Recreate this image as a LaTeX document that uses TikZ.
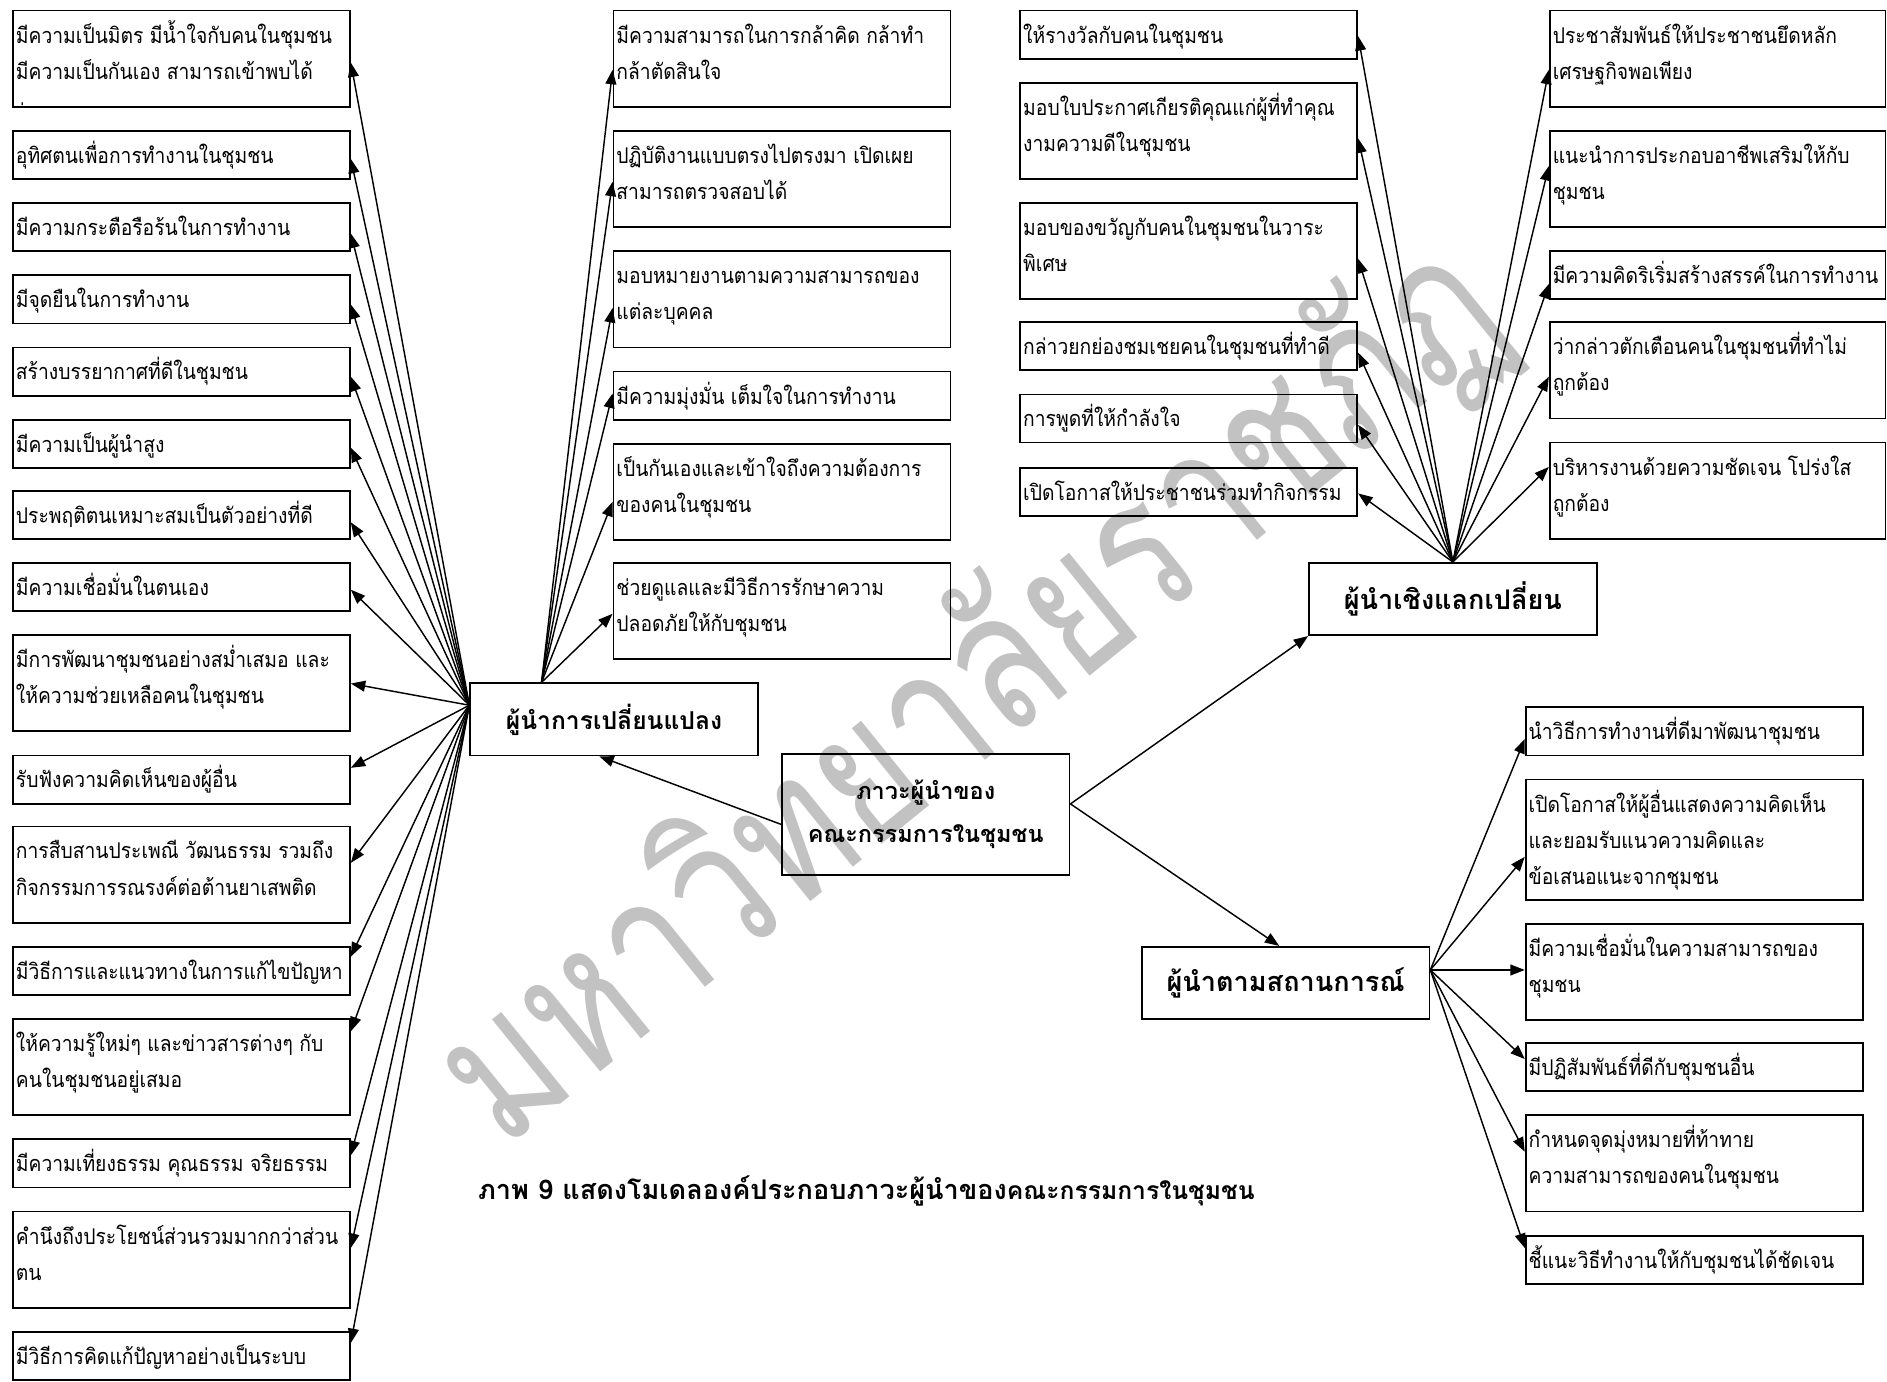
\documentclass[tikz,border=0pt]{standalone}
\usepackage{fontspec}
\setmainfont[Script=Thai]{Loma}
\newfontfamily\boxfont[Script=Thai,FakeStretch=0.89]{Loma}
\newfontfamily\wmfont[Script=Thai,FakeStretch=0.78]{Loma}
\usetikzlibrary{arrows.meta}
\tikzset{
  tbox/.style={draw, line width=1.5pt, inner xsep=2.5pt, inner ysep=0pt, anchor=north west,
    font=\boxfont\fontsize{18}{30}\selectfont},
  hub/.style={draw, line width=1.5pt, inner sep=0pt, anchor=north west, align=center,
    minimum width=239pt, font=\bfseries\fontsize{20}{36}\selectfont},
  arr/.style={line width=1.2pt, -{Triangle[length=12pt,width=9pt]}},
  wm/.style={text=black!24, font=\wmfont\fontsize{162}{162}\selectfont, rotate=39, inner sep=0pt},
  captxt/.style={font=\bfseries\fontsize{22.5}{26}\selectfont, inner sep=0pt}
}
\newcommand\mkbox[6]{\node[tbox] (#1) at (#2,#3)
  {\parbox[c][#5pt][t]{\dimexpr #4pt-5pt\relax}{\lineskiplimit=-100pt\rule{0pt}{27pt}#6}};}
\begin{document}
\begin{tikzpicture}[x=1pt,y=-1pt]
\useasboundingbox (0,0) rectangle (1568,1148);
% watermark
\node[wm] (wmark) at (808,578) {มหาวิทยาลัยราชภัฏ};
% left column
\mkbox{b1}{10}{8}{280}{80}{\mbox{มีความเป็นมิตร มีน้ำใจกับคนในชุมชน}\\\mbox{มีความเป็นกันเอง สามารถเข้าพบได้}}
\mkbox{b2}{10}{108}{280}{40}{อุทิศตนเพื่อการทำงานในชุมชน}
\mkbox{b3}{10}{168}{280}{40}{มีความกระตือรือร้นในการทำงาน}
\mkbox{b4}{10}{228}{280}{40}{มีจุดยืนในการทำงาน}
\mkbox{b5}{10}{288}{280}{40}{สร้างบรรยากาศที่ดีในชุมชน}
\mkbox{b6}{10}{348}{280}{40}{มีความเป็นผู้นำสูง}
\mkbox{b7}{10}{407}{280}{40}{ประพฤติตนเหมาะสมเป็นตัวอย่างที่ดี}
\mkbox{b8}{10}{467}{280}{40}{มีความเชื่อมั่นในตนเอง}
\mkbox{b9}{10}{527}{280}{80}{\mbox{มีการพัฒนาชุมชนอย่างสม่ำเสมอ และ}\\ให้ความช่วยเหลือคนในชุมชน}
\mkbox{b10}{10}{627}{280}{40}{รับฟังความคิดเห็นของผู้อื่น}
\mkbox{b11}{10}{686}{280}{80}{\mbox{การสืบสานประเพณี วัฒนธรรม รวมถึง}\\กิจกรรมการรณรงค์ต่อต้านยาเสพติด}
\mkbox{b12}{10}{786}{280}{40}{มีวิธีการและแนวทางในการแก้ไขปัญหา}
\mkbox{b13}{10}{846}{280}{80}{\mbox{ให้ความรู้ใหม่ๆ และข่าวสารต่างๆ กับ}\\คนในชุมชนอยู่เสมอ}
\mkbox{b14}{10}{946}{280}{40}{\mbox{มีความเที่ยงธรรม คุณธรรม จริยธรรม}}
\mkbox{b15}{10}{1006}{280}{80}{คำนึงถึงประโยชน์ส่วนรวมมากกว่าส่วน\\ตน}
\mkbox{b16}{10}{1106}{280}{40}{มีวิธีการคิดแก้ปัญหาอย่างเป็นระบบ}
\begin{scope}
\clip (b1.north west) rectangle (b1.south east);
\node[anchor=base west, inner sep=0pt, font=\boxfont\fontsize{18}{30}\selectfont] (b1c) at ([xshift=2.5pt,yshift=-91pt]b1.north west) {ง่าย};
\end{scope}
% column 2
\mkbox{c1}{509}{8}{280}{80}{\mbox{มีความสามารถในการกล้าคิด กล้าทำ}\\กล้าตัดสินใจ}
\mkbox{c2}{509}{108}{280}{80}{\mbox{ปฏิบัติงานแบบตรงไปตรงมา เปิดเผย}\\สามารถตรวจสอบได้}
\mkbox{c3}{509}{208}{280}{80}{มอบหมายงานตามความสามารถของ\\แต่ละบุคคล}
\mkbox{c4}{509}{308}{280}{40}{\mbox{มีความมุ่งมั่น เต็มใจในการทำงาน}}
\mkbox{c5}{509}{368}{280}{80}{เป็นกันเองและเข้าใจถึงความต้องการ\\ของคนในชุมชน}
\mkbox{c6}{509}{467}{280}{80}{ช่วยดูแลและมีวิธีการรักษาความ\\ปลอดภัยให้กับชุมชน}
% column 3
\mkbox{d1}{847}{8}{280}{40}{ให้รางวัลกับคนในชุมชน}
\mkbox{d2}{847}{68}{280}{80}{มอบใบประกาศเกียรติคุณแก่ผู้ที่ทำคุณ\\งามความดีในชุมชน}
\mkbox{d3}{847}{168}{280}{80}{มอบของขวัญกับคนในชุมชนในวาระ\\พิเศษ}
\mkbox{d4}{847}{267}{280}{40}{กล่าวยกย่องชมเชยคนในชุมชนที่ทำดี}
\mkbox{d5}{847}{327}{280}{40}{การพูดที่ให้กำลังใจ}
\mkbox{d6}{847}{388}{280}{40}{เปิดโอกาสให้ประชาชนร่วมทำกิจกรรม}
% column 4
\mkbox{e1}{1287}{8}{279}{80}{ประชาสัมพันธ์ให้ประชาชนยึดหลัก\\เศรษฐกิจพอเพียง}
\mkbox{e2}{1287}{108}{279}{80}{แนะนำการประกอบอาชีพเสริมให้กับ\\ชุมชน}
\mkbox{e3}{1287}{208}{279}{40}{มีความคิดริเริ่มสร้างสรรค์ในการทำงาน}
\mkbox{e4}{1287}{267}{279}{80}{ว่ากล่าวตักเตือนคนในชุมชนที่ทำไม่\\ถูกต้อง}
\mkbox{e5}{1287}{367}{279}{80}{\mbox{บริหารงานด้วยความชัดเจน โปร่งใส}\\ถูกต้อง}
% column 5
\mkbox{f1}{1267}{587}{280}{40}{นำวิธีการทำงานที่ดีมาพัฒนาชุมชน}
\mkbox{f2}{1267}{647}{280}{100}{เปิดโอกาสให้ผู้อื่นแสดงความคิดเห็น\\และยอมรับแนวความคิดและ\\ข้อเสนอแนะจากชุมชน}
\mkbox{f3}{1267}{767}{280}{80}{มีความเชื่อมั่นในความสามารถของ\\ชุมชน}
\mkbox{f4}{1267}{866}{280}{40}{มีปฏิสัมพันธ์ที่ดีกับชุมชนอื่น}
\mkbox{f5}{1267}{926}{280}{80}{กำหนดจุดมุ่งหมายที่ท้าทาย\\ความสามารถของคนในชุมชน}
\mkbox{f6}{1267}{1026}{280}{40}{ชี้แนะวิธีทำงานให้กับชุมชนได้ชัดเจน}
% hubs
\node[hub, minimum height=60pt, font=\bfseries\fontsize{20.5}{36}\selectfont] (lhub) at (390,567) {ผู้นำการเปลี่ยนแปลง};
\node[hub, minimum height=100pt, font=\bfseries\fontsize{19.5}{36}\selectfont] (ctr) at (649,626) {ภาวะผู้นำของ\\คณะกรรมการในชุมชน};
\node[hub, minimum height=60pt, font=\bfseries\fontsize{22.5}{36}\selectfont] (hub2) at (1087,467) {ผู้นำเชิงแลกเปลี่ยน};
\node[hub, minimum height=60pt, font=\bfseries\fontsize{22.5}{36}\selectfont] (hub3) at (948,786) {ผู้นำตามสถานการณ์};
% caption
\node[captxt] (caption) at (720,990) {ภาพ 9 แสดงโมเดลองค์ประกอบภาวะผู้นำของ{\fontsize{20.5}{26}\selectfont คณะกรรมการในชุมชน}};
% connection points
\coordinate (lsrc) at ([yshift=-19pt]lhub.north west);
\coordinate (csrc) at ([xshift=60pt]lhub.north west);
\coordinate (h3src) at ([yshift=-20pt]hub3.north east);
\coordinate (cL) at ([yshift=-59pt]ctr.north west);
\coordinate (cR) at ([yshift=-42pt]ctr.north east);
% center arrows
\draw[arr] (cL) -- ([xshift=108pt]lhub.south west);
\draw[arr] (cR) -- (hub2.south west);
\draw[arr] (cR) -- ([xshift=115pt]hub3.north west);
% fans
\foreach \n/\ty in {b1/52,b2/132,b3/194,b4/253,b5/313,b6/372,b7/434,b8/490,b9/568,b10/638,b11/717,b12/795,b13/857,b14/960,b15/1037,b16/1116}
  \draw[arr] (lsrc) -- (\n.east |- 0,\ty);
\foreach \n/\ty in {c1/58,c2/151,c3/256,c4/327,c5/417,c6/510}
  \draw[arr] (csrc) -- (\n.west |- 0,\ty);
\foreach \n/\ty in {d1/30,d2/115,d3/215,d4/293,d5/353,d6/410}
  \draw[arr] (hub2.north) -- (\n.east |- 0,\ty);
\foreach \n/\ty in {e1/58,e2/138,e3/236,e4/313,e5/388}
  \draw[arr] (hub2.north) -- (\n.west |- 0,\ty);
\foreach \n/\ty in {f1/614,f2/712,f3/806,f4/880,f5/957,f6/1037}
  \draw[arr] (h3src) -- (\n.west |- 0,\ty);
\end{tikzpicture}
\end{document}
